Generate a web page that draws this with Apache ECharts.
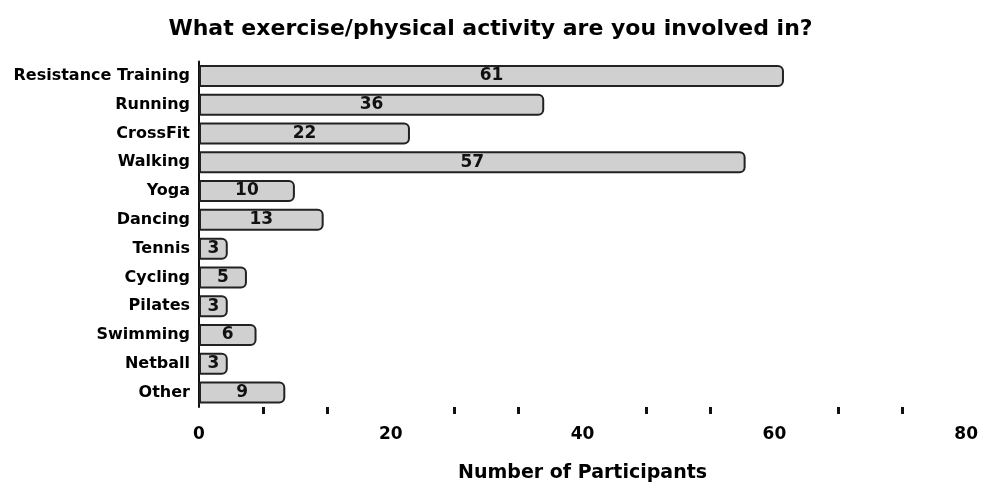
<!DOCTYPE html>
<html>
<head>
<meta charset="utf-8">
<script src="https://cdn.jsdelivr.net/npm/echarts@6/dist/echarts.min.js"></script>
<style>html,body{margin:0;padding:0;background:#fff;}#c{width:981px;height:488px;}</style>
</head>
<body>
<div id="c"></div>
<script>
var titleText = 'What exercise/physical activity are you involved in?';
var categories = ['Resistance Training','Running','CrossFit','Walking','Yoga','Dancing','Tennis','Cycling','Pilates','Swimming','Netball','Other'];
var values = [61,36,22,57,10,13,3,5,3,6,3,9];
var xTicks = [0,20,40,60,80];
var xName = 'Number of Participants';

var chart = echarts.init(document.getElementById('c'), null, {renderer:'canvas'});
var font = '"DejaVu Sans", Arial, sans-serif';
chart.setOption({
  animation:false,
  backgroundColor:'#fff',
  title:{text:titleText,left:'center',top:13,textStyle:{fontFamily:font,fontWeight:'bold',fontSize:22,color:'#000'}},
  grid:{left:199,right:12,top:61.5,bottom:77.5,containLabel:false},
  xAxis:{type:'value',min:xTicks[0],max:xTicks[xTicks.length-1],interval:20,
    name:xName,nameLocation:'middle',nameGap:57,
    nameTextStyle:{fontFamily:font,fontWeight:'bold',fontSize:19,color:'#000',verticalAlign:'top'},
    axisLine:{show:false},axisTick:{show:false},splitLine:{show:false},
    minorTick:{show:true,splitNumber:3,length:7,lineStyle:{color:'#111',width:3}},
    axisLabel:{margin:19,fontFamily:font,fontWeight:'bold',fontSize:17,color:'#000'}},
  yAxis:{type:'category',data:categories,inverse:true,
    axisLine:{show:true,lineStyle:{color:'#111',width:2}},axisTick:{show:false},
    axisLabel:{margin:9,fontFamily:font,fontWeight:'bold',fontSize:16,color:'#000'}},
  series:[{type:'bar',data:values,barWidth:22,
    itemStyle:{color:'#d0d0d0',borderColor:'#222',borderWidth:2,borderRadius:[0,5,5,0]},
    label:{show:true,position:'inside',fontFamily:font,fontWeight:'bold',fontSize:17,color:'#111'}}]
});
</script>
</body>
</html>
